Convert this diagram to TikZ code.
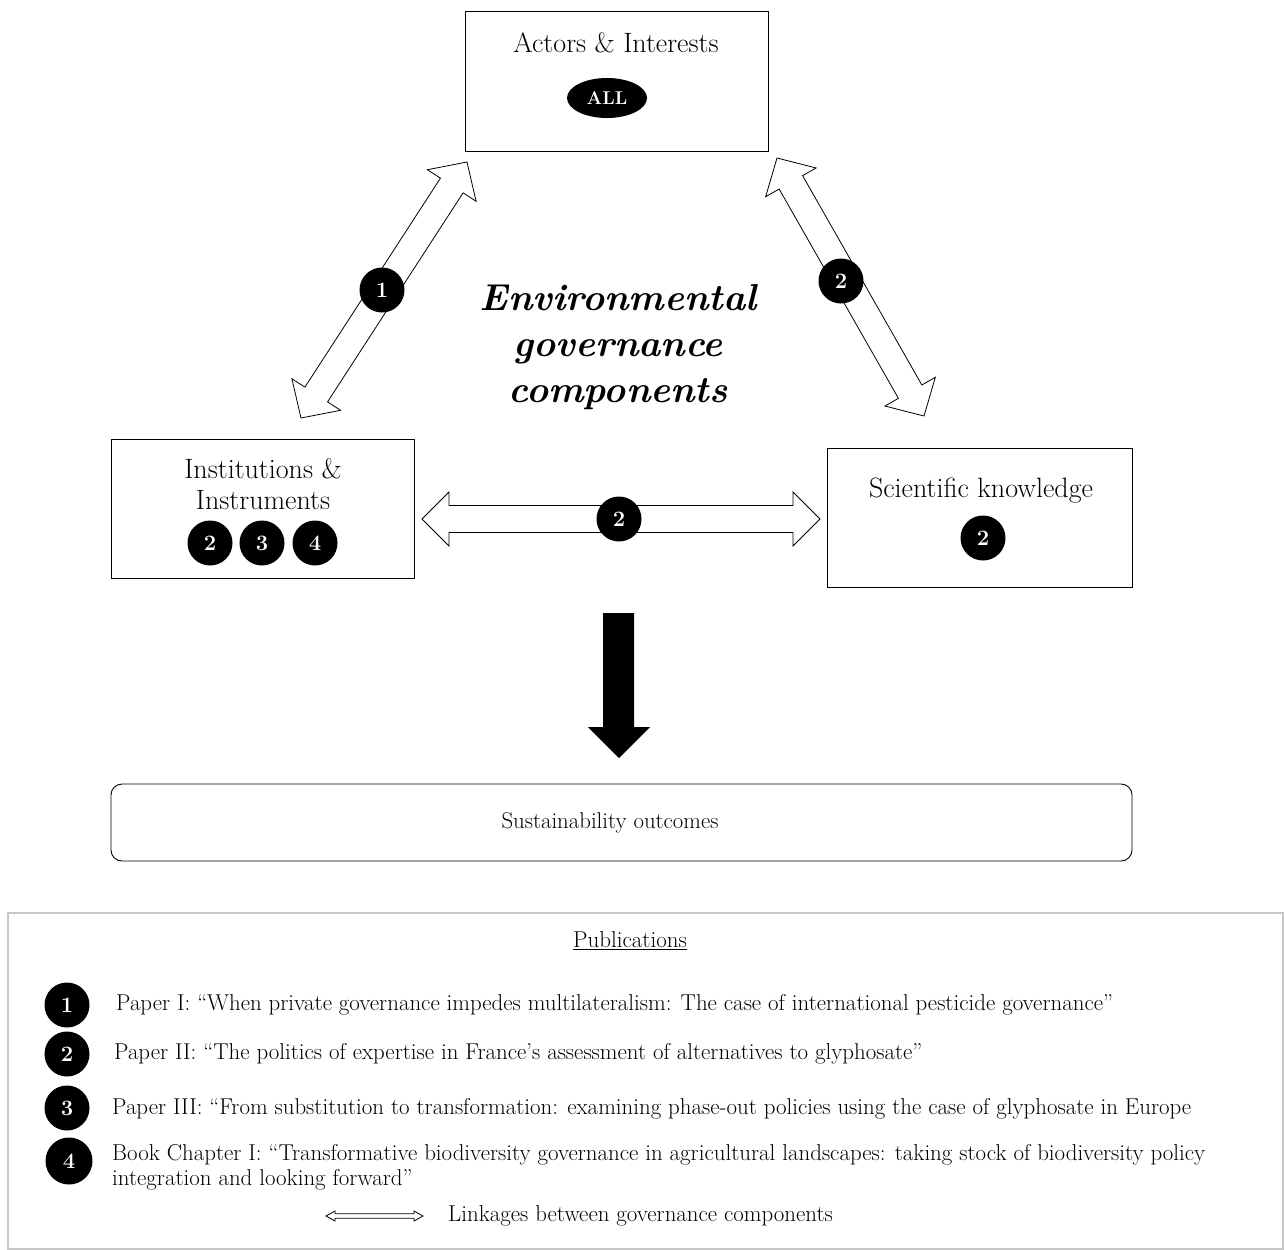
\documentclass[tikz,border=0pt]{standalone}
\usetikzlibrary{calc,shapes.geometric}

% hollow two-headed arrow between two named points:
% #1,#2 tips, #3 head length, #4 head half-width, #5 shaft half-width
\newcommand{\linkarrow}[5]{%
  \draw[linkline]
    (#1)
    -- ($(#1)!#3!(#2)!#4!90:(#2)$)
    -- ($(#1)!#3!(#2)!#5!90:(#2)$)
    -- ($(#2)!#3!(#1)!#5!-90:(#1)$)
    -- ($(#2)!#3!(#1)!#4!-90:(#1)$)
    -- (#2)
    -- ($(#2)!#3!(#1)!#4!90:(#1)$)
    -- ($(#2)!#3!(#1)!#5!90:(#1)$)
    -- ($(#1)!#3!(#2)!#5!-90:(#2)$)
    -- ($(#1)!#3!(#2)!#4!-90:(#2)$)
    -- cycle;}

\begin{document}
\begin{tikzpicture}[x=1pt,y=-1pt,
  compbox/.style={draw=black, line width=0.9pt, fill=white},
  linkline/.style={draw=black, line width=0.8pt, fill=white, line join=miter},
  badge/.style={circle, fill=black, text=white, inner sep=0pt, minimum size=45pt,
    font=\fontsize{22}{24}\selectfont\bfseries},
  boxtext/.style={font=\fontsize{28}{31}\selectfont, align=center},
  legtext/.style={anchor=west, font=\fontsize{22.9}{25}\selectfont, align=left, inner sep=0pt}]

\useasboundingbox (0,0) rectangle (1285,1250);

% governance components
\draw[compbox] (465,11) rectangle (768,151);
\node[boxtext] (actors) at (616,43) {Actors \& Interests};
\node[ellipse, fill=black, text=white, minimum width=80pt, minimum height=40pt, inner sep=0pt,
  font=\fontsize{18.5}{20}\selectfont\bfseries] (all) at (607,98) {ALL};

\draw[compbox] (111,439) rectangle (414,578);
\node[boxtext] (inst) at (263,484) {Institutions \&\\Instruments};
\node[badge] (i2) at (210,543) {2};
\node[badge] (i3) at (262,543) {3};
\node[badge] (i4) at (315,543) {4};

\draw[compbox] (827,448) rectangle (1132,587);
\node[boxtext] (sci) at (981,491) {Scientific knowledge};
\node[badge] (s2) at (983,538) {2};

% central title
\node[font=\fontsize{37.5}{46}\selectfont\bfseries\itshape, align=center] (title) at (618,347)
  {Environmental\\governance\\components};

% linkages
\coordinate (l1a) at (301,418);
\coordinate (l1b) at (467,162);
\linkarrow{l1a}{l1b}{28pt}{29pt}{13.5pt}
\node[badge] (b1) at (382,290) {1};

\coordinate (l2a) at (777,158);
\coordinate (l2b) at (924,416);
\linkarrow{l2a}{l2b}{28pt}{29pt}{13.5pt}
\node[badge] (b2) at (841,281) {2};

\coordinate (l3a) at (422,519);
\coordinate (l3b) at (820,519);
\linkarrow{l3a}{l3b}{27pt}{27pt}{13.5pt}
\node[badge] (b3) at (619,519) {2};

% outcome
\fill[black] (603,613) -- (634,613) -- (634,727) -- (650,727) -- (619,758)
  -- (588,727) -- (603,727) -- cycle;
\draw[compbox, rounded corners=11pt] (111,784) rectangle (1132,861);
\node[font=\fontsize{22.8}{24}\selectfont] (outc) at (610,823) {Sustainability outcomes};

% publications legend
\draw[draw=black!22, line width=1.5pt] (8,913) rectangle (1283,1249);
\node[font=\fontsize{23}{24}\selectfont] (pub) at (630,941) {\underline{Publications}};

\node[badge] (p1) at (67,1005) {1};
\node[badge] (p2) at (67,1054) {2};
\node[badge] (p3) at (67,1108) {3};
\node[badge, minimum height=47pt] (p4) at (69,1161) {4};

\node[legtext] (t1) at (116,1005) {Paper I: ``When private governance impedes multilateralism: The case of international pesticide governance''};
\node[legtext] (t2) at (114,1054) {Paper II: ``The politics of expertise in France's assessment of alternatives to glyphosate''};
\node[legtext] (t3) at (112,1109) {Paper III: ``From substitution to transformation: examining phase-out policies using the case of glyphosate in Europe};
\node[legtext] (t4) at (112,1167) {Book Chapter I: ``Transformative biodiversity governance in agricultural landscapes: taking stock of biodiversity policy\\integration and looking forward''};

\coordinate (ka) at (326,1216);
\coordinate (kb) at (423,1216);
\linkarrow{ka}{kb}{9pt}{5pt}{2.2pt}
\node[legtext] (kt) at (448,1216) {Linkages between governance components};

\end{tikzpicture}
\end{document}
